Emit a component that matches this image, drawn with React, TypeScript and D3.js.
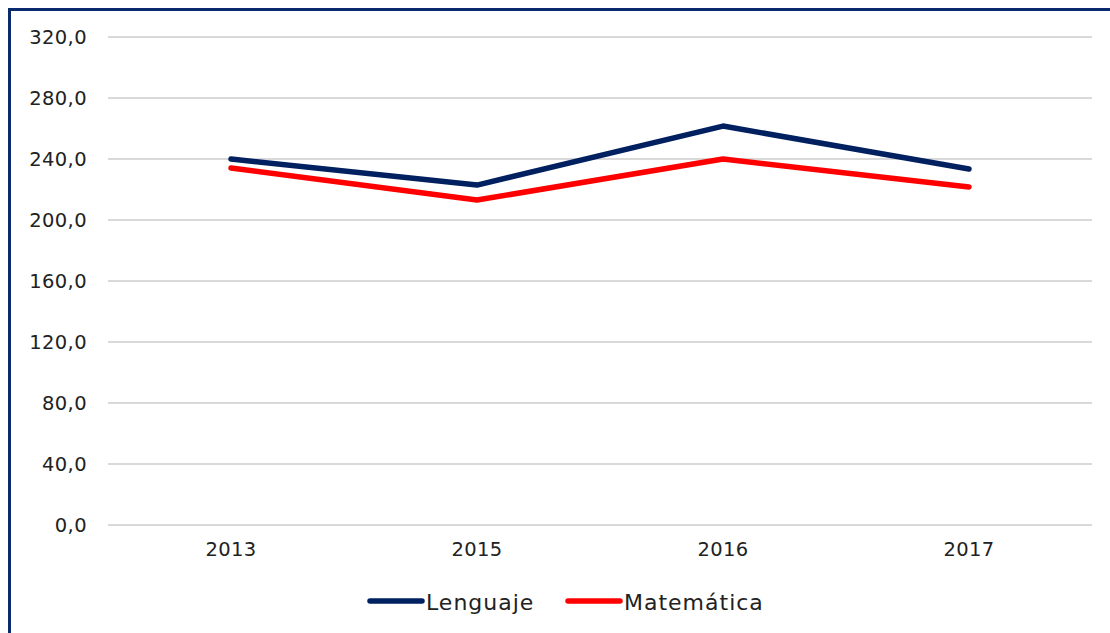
import React from 'react';
import * as d3 from 'd3';

const years = ['2013', '2015', '2016', '2017'];
const lenguaje = [240.0, 222.9, 261.6, 233.4];
const matematica = [234.1, 213.1, 240.0, 221.6];
const yTicks = [0, 40, 80, 120, 160, 200, 240, 280, 320];

const series = [
  { name: 'Lenguaje', values: lenguaje, color: '#002060' },
  { name: 'Matemática', values: matematica, color: '#ff0000' },
];

const W = 1110;
const H = 633;
const FONT = "'DejaVu Sans', sans-serif";

const App = () => {
  const xScale = d3.scaleBand<string>().domain(years).range([108, 1092]);
  const yScale = d3.scaleLinear().domain([0, 320]).range([525, 37]);

  const line = d3.line<number>()
    .x((_, i) => (xScale(years[i]) as number) + xScale.bandwidth() / 2)
    .y(d => yScale(d));

  const legendItems = [
    { x: 368, ...series[0] },
    { x: 566, ...series[1] },
  ];

  return (
    <svg
      width={W}
      height={H}
      style={{ position: 'absolute', left: 0, top: 0, background: '#fff' }}
      fontFamily={FONT}
    >
      <rect x={9.5} y={9.5} width={W + 20} height={H + 20} fill="none" stroke="#0b2a6e" strokeWidth={3} />

      <g className="grid">
        {yTicks.map(t => (
          <line key={t} x1={108} x2={1092} y1={yScale(t)} y2={yScale(t)} stroke="#d9d9d9" strokeWidth={2} />
        ))}
      </g>

      <g className="yAxis">
        {yTicks.map(t => (
          <text key={t} x={87} y={yScale(t)} dy="0.35em" textAnchor="end" fontSize={19.5} letterSpacing={0.4} fill="#222">
            {d3.format('.1f')(t).replace('.', ',')}
          </text>
        ))}
      </g>

      <g className="xAxis">
        {years.map(y => (
          <text key={y} x={(xScale(y) as number) + xScale.bandwidth() / 2} y={549} dy="0.35em" textAnchor="middle" fontSize={19.5} letterSpacing={0.4} fill="#222">
            {y}
          </text>
        ))}
      </g>

      <g className="lines">
        {series.map(s => (
          <path key={s.name} d={line(s.values) as string} fill="none" stroke={s.color} strokeWidth={5.5} strokeLinecap="round" strokeLinejoin="round" />
        ))}
      </g>

      <g className="legend">
        {legendItems.map(l => (
          <g key={l.name}>
            <line x1={l.x + 2} x2={l.x + 54} y1={601} y2={601} stroke={l.color} strokeWidth={5.5} strokeLinecap="round" />
            <text x={l.x + 58} y={602} dy="0.35em" fontSize={22} letterSpacing={1} fill="#222">{l.name}</text>
          </g>
        ))}
      </g>
    </svg>
  );
};

export default App;
